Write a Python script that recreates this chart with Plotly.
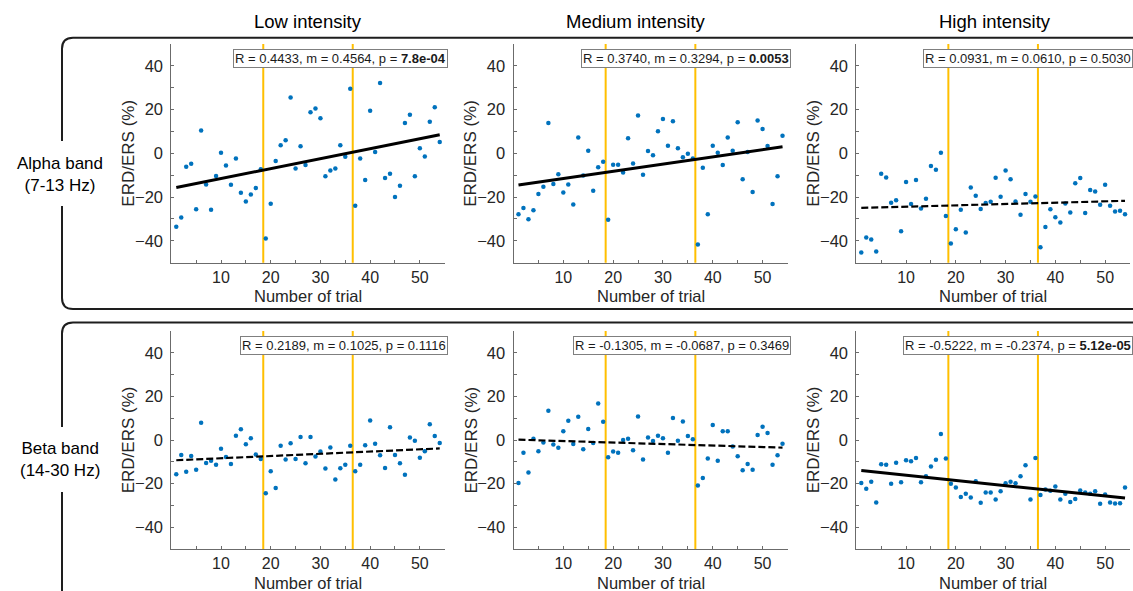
import plotly.graph_objects as go

W, H = 1133, 591
FONT = "Liberation Sans, Arial, sans-serif"

trials = list(range(1, 55))

# ERD/ERS (%) per trial, alpha band (7-13 Hz)
alpha_low = [-33.6, -29.3, -6.1, -4.7, -25.6, 10.5, -14.2, -25.8, -10.4, 0.3,
             -5.6, -14.4, -2.3, -18.0, -22.0, -18.8, -15.9, -7.3, -38.9, -23.1,
             -3.5, 3.7, 6.0, 25.5, -6.9, 3.2, -5.3, 18.8, 20.5, 16.0,
             -10.5, -7.8, -6.9, 3.7, -1.5, 29.5, -24.0, -2.4, -12.2, 19.5,
             0.6, 32.2, -11.3, -9.3, -20.0, -14.8, 13.9, 17.6, -10.5, 2.3,
             -1.4, 14.4, 21.1, 5.2]
alpha_medium = [-27.9, -25.0, -30.1, -26.0, -18.6, -15.3, 13.9, -14.0, -9.6, -17.9,
                -14.2, -23.4, 7.2, -10.1, 1.2, -17.1, -6.4, -3.8, -30.4, -5.2,
                -5.2, -8.7, 6.9, -4.6, 17.3, -9.8, 1.1, -0.9, 10.1, 15.7,
                3.5, 14.7, 2.3, -1.8, -0.2, -2.4, -41.7, -6.6, -27.8, 3.5,
                0.3, -5.3, 7.3, 1.2, 14.2, -11.8, 0.6, -17.7, 15.0, 11.1,
                3.4, -23.2, -10.5, 8.1]
alpha_high = [-45.3, -38.5, -39.4, -44.9, -9.3, -11.0, -22.6, -21.5, -35.6, -13.1,
              -23.2, -12.2, -25.2, -20.8, -5.8, -7.5, 0.3, -28.7, -41.2, -34.7,
              -25.8, -36.2, -15.6, -19.4, -25.5, -22.7, -22.1, -11.1, -19.8, -7.8,
              -11.8, -22.0, -28.1, -18.6, -22.1, -19.7, -42.9, -33.7, -25.6, -29.2,
              -31.6, -22.9, -27.0, -13.7, -11.3, -27.3, -16.8, -17.4, -23.5, -14.4,
              -24.0, -26.6, -26.3, -27.8]

# ERD/ERS (%) per trial, beta band (14-30 Hz)
beta_low = [-15.7, -6.9, -14.6, -7.3, -13.6, 7.9, -10.5, -9.5, -11.3, -4.0,
            -7.8, -11.0, 2.0, 4.9, -2.0, 0.8, -6.7, -8.7, -24.4, -14.3,
            -22.0, -2.6, -9.0, -1.5, -8.7, 1.4, -10.7, 1.4, -7.6, -5.3,
            -13.1, -3.4, -18.1, -13.0, -11.3, -2.6, -14.3, -11.4, -2.4, 9.0,
            -1.7, -7.0, -12.8, 5.9, -6.9, -10.7, -15.9, 1.2, -0.3, -8.1,
            -5.2, 7.2, 1.8, -1.4]
beta_medium = [-19.7, -5.8, -14.9, 0.6, -5.2, -1.2, 13.4, -2.1, -3.5, 4.0,
               8.8, -1.8, 10.7, -4.3, 5.0, -1.4, 16.8, 8.4, -7.9, -5.3,
               -5.9, 0.0, 0.6, -4.7, 10.8, -9.0, 1.2, -0.5, 2.0, 0.8,
               -5.8, 10.1, -0.3, 8.5, 1.8, 0.3, -20.9, -17.4, -8.5, 6.9,
               -9.5, 4.0, 4.0, -3.0, -7.5, -13.9, -11.0, -13.7, 2.3, 6.1,
               3.2, -11.3, -7.0, -1.7]
beta_high = [-19.7, -22.4, -19.1, -28.7, -11.1, -11.4, -20.1, -10.4, -19.4, -9.3,
             -9.8, -8.2, -19.4, -16.6, -12.2, -9.1, 2.7, -8.5, -20.1, -21.8,
             -26.1, -24.7, -26.4, -18.9, -28.8, -24.1, -24.1, -27.3, -23.5, -19.8,
             -19.1, -19.8, -16.6, -11.6, -27.3, -8.2, -25.2, -22.7, -23.3, -21.3,
             -27.3, -24.7, -28.4, -27.1, -23.2, -24.1, -24.7, -23.5, -29.3, -25.0,
             -28.7, -29.1, -29.0, -21.8]

bands = ["Alpha band<br>(7-13 Hz)", "Beta band<br>(14-30 Hz)"]
intensities = ["Low intensity", "Medium intensity", "High intensity"]
series = [[alpha_low, alpha_medium, alpha_high],
          [beta_low, beta_medium, beta_high]]

# Linear fit statistics per panel
r_vals = [[0.4433, 0.3740, 0.0931], [0.2189, -0.1305, -0.5222]]
slopes = [[0.4564, 0.3294, 0.0610], [0.1025, -0.0687, -0.2374]]
intercepts = [[-16.1, -14.8, -25.0], [-9.4, 0.2, -13.8]]
p_vals = [[7.8e-04, 0.0053, 0.5030], [0.1116, 0.3469, 5.12e-05]]
p_labels = [["7.8e-04", "0.0053", "0.5030"], ["0.1116", "0.3469", "5.12e-05"]]

# Trial positions separating the intensity blocks
block_bounds = [18.5, 36.5]

x_ticks = [10, 20, 30, 40, 50]
y_ticks = [-40, -20, 0, 20, 40]

# Panel geometry in pixels
col_px = [(171.3, 444.7), (513.5, 787.5), (856.3, 1130.0)]
row_px = [(44.0, 262.7), (331.0, 549.0)]


def px(x):
    return x / W


def py(y):
    return 1 - y / H


AX_COLOR = "#6b6b6b"
TXT_COLOR = "#262626"
BLUE = "#0072BD"
GOLD = "#FFBF00"

fig = go.Figure()
layout = dict(
    width=W, height=H,
    margin=dict(l=0, r=0, t=0, b=0),
    paper_bgcolor="white", plot_bgcolor="white",
    showlegend=False,
    font=dict(family=FONT, size=17, color=TXT_COLOR),
)
annotations = []
shapes = []

for r in range(2):
    for c in range(3):
        k = r * 3 + c + 1
        xa = "x" if k == 1 else f"x{k}"
        ya = "y" if k == 1 else f"y{k}"
        xname = "xaxis" if k == 1 else f"xaxis{k}"
        yname = "yaxis" if k == 1 else f"yaxis{k}"
        x0p, x1p = col_px[c]
        y0p, y1p = row_px[r]

        layout[xname] = dict(
            domain=[px(x0p), px(x1p)], anchor=ya, range=[0, 55],
            tickmode="array", tickvals=x_ticks,
            ticks="inside", ticklen=3, tickwidth=1, tickcolor=AX_COLOR,
            minor=dict(tickmode="array", tickvals=[5, 15, 25, 35, 45],
                       ticks="inside", ticklen=3, tickcolor=AX_COLOR),
            showline=True, linecolor=AX_COLOR, linewidth=1,
            showgrid=False, zeroline=False,
            tickfont=dict(size=16, color=TXT_COLOR, family=FONT),
            ticklabelstandoff=0,
            fixedrange=True,
        )
        layout[yname] = dict(
            domain=[py(y1p), py(y0p)], anchor=xa, range=[-50, 50],
            tickmode="array", tickvals=y_ticks,
            ticks="inside", ticklen=3, tickwidth=1, tickcolor=AX_COLOR,
            minor=dict(tickmode="array", tickvals=[-30, -10, 10, 30],
                       ticks="inside", ticklen=3, tickcolor=AX_COLOR),
            showline=True, linecolor=AX_COLOR, linewidth=1,
            showgrid=False, zeroline=False,
            tickfont=dict(size=16.5, color=TXT_COLOR, family=FONT),
            ticklabelstandoff=4,
            fixedrange=True,
        )

        # block boundaries
        for xb in block_bounds:
            shapes.append(dict(
                type="line", xref=xa, yref=f"{ya} domain",
                x0=xb, x1=xb, y0=0, y1=1,
                line=dict(color=GOLD, width=2), layer="below",
            ))

        vals = series[r][c]
        fig.add_trace(go.Scatter(
            x=trials, y=vals, mode="markers", xaxis=xa, yaxis=ya,
            marker=dict(color=BLUE, size=4.5, line=dict(width=0)),
            hoverinfo="skip",
        ))

        m = slopes[r][c]
        b = intercepts[r][c]
        significant = p_vals[r][c] < 0.05
        xs = [trials[0], trials[-1]]
        ys = [b + m * xv for xv in xs]
        fig.add_trace(go.Scatter(
            x=xs, y=ys, mode="lines", xaxis=xa, yaxis=ya,
            line=dict(color="black", width=3 if significant else 2.2,
                      dash="solid" if significant else "7px,3px"),
            hoverinfo="skip",
        ))

        p_txt = f"<b>{p_labels[r][c]}</b>" if significant else p_labels[r][c]
        annotations.append(dict(
            xref=f"{xa} domain", yref=f"{ya} domain", x=1, y=1,
            xanchor="right", yanchor="top", xshift=3, yshift=-5,
            text=f"R = {r_vals[r][c]:.4f}, m = {m:.4f}, p = {p_txt}",
            showarrow=False, font=dict(size=13, color="#1a1a1a", family=FONT),
            bgcolor="white", bordercolor="#7f7f7f", borderwidth=1, borderpad=1,
        ))

        # axis titles
        annotations.append(dict(
            xref="paper", yref="paper", x=px(x0p - 43), y=py((y0p + y1p) / 2),
            xanchor="center", yanchor="middle", textangle=-90,
            text="ERD/ERS (%)", showarrow=False,
            font=dict(size=17, color=TXT_COLOR, family=FONT),
        ))
        annotations.append(dict(
            xref="paper", yref="paper", x=px((x0p + x1p) / 2), y=py(y1p + 33.5),
            xanchor="center", yanchor="middle",
            text="Number of trial", showarrow=False,
            font=dict(size=16.5, color=TXT_COLOR, family=FONT),
        ))

# column titles
title_x = [308, 636, 995]
for c in range(3):
    annotations.append(dict(
        xref="paper", yref="paper", x=px(title_x[c]), y=py(22),
        xanchor="center", yanchor="middle", text=intensities[c],
        showarrow=False, font=dict(size=18.5, color="black", family=FONT),
    ))

# row labels
row_label_y = [175, 459]
for r in range(2):
    annotations.append(dict(
        xref="paper", yref="paper", x=px(60), y=py(row_label_y[r]),
        xanchor="center", yanchor="middle", text=bands[r],
        showarrow=False, font=dict(size=17, color="black", family=FONT),
    ))


# rounded group frames, left edge interrupted by the row label
def frame_path(top, bottom, gap_top, gap_bottom, left=62.0, right=1160.0, rad=11.0):
    d = []
    d.append(f"M {px(left)},{py(gap_top)} L {px(left)},{py(top + rad)}")
    d.append(f"Q {px(left)},{py(top)} {px(left + rad)},{py(top)}")
    d.append(f"L {px(right)},{py(top)}")
    d.append(f"M {px(left)},{py(gap_bottom)} L {px(left)},{py(bottom - rad)}")
    d.append(f"Q {px(left)},{py(bottom)} {px(left + rad)},{py(bottom)}")
    d.append(f"L {px(right)},{py(bottom)}")
    return " ".join(d)


for (top, bottom, g0, g1) in [(37.7, 309.0, 141, 206), (322.5, 606.0, 427, 492)]:
    shapes.append(dict(
        type="path", xref="paper", yref="paper",
        path=frame_path(top, bottom, g0, g1),
        line=dict(color="#1e1e1e", width=2),
    ))

layout["annotations"] = annotations
layout["shapes"] = shapes
fig.update_layout(**layout)

fig.write_html("out.html")
